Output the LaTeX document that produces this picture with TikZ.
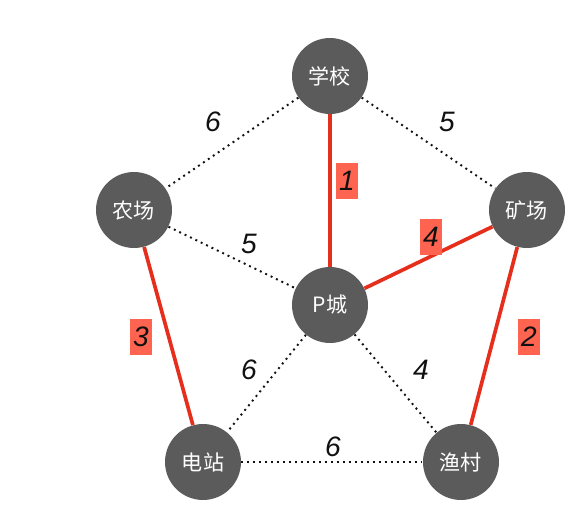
\documentclass[tikz,border=0pt]{standalone}
\usepackage{fontspec}
\setsansfont{Liberation Sans}
\newfontfamily\cjk{Noto Sans CJK SC}
\usepackage{xcolor}
\usepackage{tikz}
\usetikzlibrary{positioning, arrows.meta, calc}
\definecolor{town}{HTML}{5B5B5B}
\definecolor{route}{HTML}{E62E1C}
\definecolor{tag}{HTML}{FF6451}
\definecolor{ink}{HTML}{111111}
\tikzset{
  town/.style   = {circle, fill=town, draw=none, minimum size=1.52cm,
                   inner sep=0pt, text=white, font=\cjk\fontsize{12}{14}\selectfont},
  road/.style   = {draw=ink, line width=1.1pt, dash pattern=on 1.1pt off 2.3pt},
  picked/.style = {draw=route, line width=2.1pt},
  wt/.style     = {font=\sffamily\itshape\fontsize{16}{18}\selectfont, text=ink,
                   inner sep=0pt},
  wtbox/.style  = {wt, fill=tag, minimum width=0.44cm, minimum height=0.74cm},
}
\begin{document}
\begin{tikzpicture}[x=0.02cm, y=-0.02cm]
  \useasboundingbox (0,0) rectangle (566,531);

  % towns
  \node[town] (school) at (330,76)  {学校};
  \node[town] (farm)   at (134,210) {农场};
  \node[town] (mine)   at (527,210) {矿场};
  \node[town] (pcity)  at (330,305) {P城};
  \node[town] (plant)  at (203,462) {电站};
  \node[town] (fish)   at (461,462) {渔村};

  % all roads
  \draw[road] (school) -- (farm);
  \draw[road] (school) -- (mine);
  \draw[road] (farm) -- (pcity);
  \draw[road] (pcity) -- (plant);
  \draw[road] (pcity) -- (fish);
  \draw[road] (plant) -- (fish);

  % chosen roads
  \draw[picked] (school) -- (pcity);
  \draw[picked] (pcity) -- (mine);
  \draw[picked] (farm) -- (plant);
  \draw[picked] (mine) -- (fish);

  % weights
  \node[wt] (w1) at (213,122) {6};
  \node[wt] (w2) at (447,122) {5};
  \node[wt] (w3) at (249,244) {5};
  \node[wt] (w4) at (249,370) {6};
  \node[wt] (w5) at (421,370) {4};
  \node[wt] (w6) at (333,447) {6};

  \node[wtbox] (t1) at (347,181) {1};
  \node[wtbox] (t2) at (529,337) {2};
  \node[wtbox] (t3) at (141,337) {3};
  \node[wtbox] (t4) at (431,237) {4};

\end{tikzpicture}
\end{document}
